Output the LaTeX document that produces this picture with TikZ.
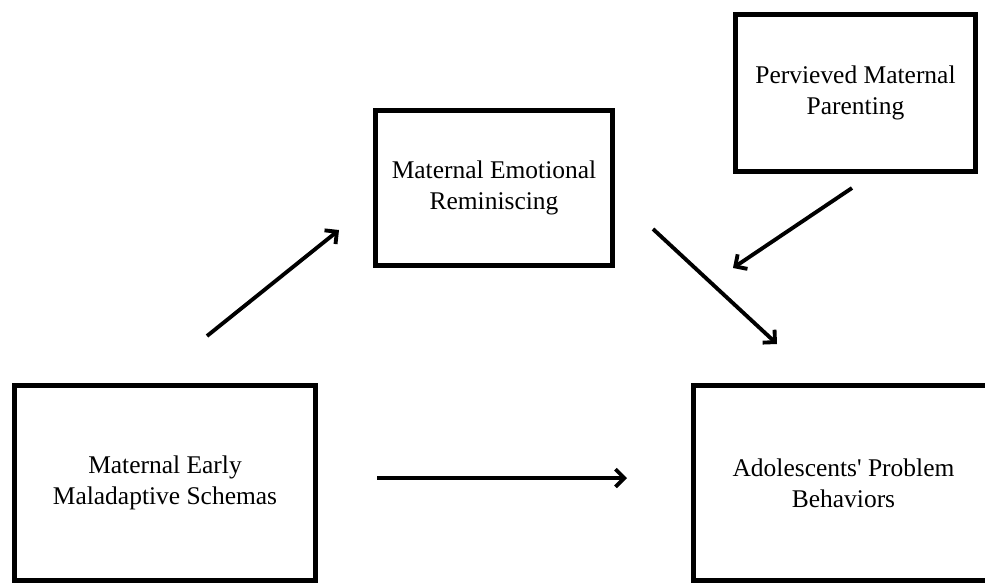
\documentclass[tikz,border=0pt]{standalone}
\usepackage{fontspec}
\setmainfont{Liberation Serif}
\usetikzlibrary{arrows.meta}
\tikzset{
  box/.style={draw, line width=3.2pt, align=center, inner sep=0pt,
    font=\fontsize{14.5}{17.5}\selectfont},
  link/.style={-{Straight Barb[length=5pt,width=10pt]}, line width=2.2pt}
}
\begin{document}
\begin{tikzpicture}[x=0.02cm, y=-0.02cm]
    \useasboundingbox (0,0) rectangle (985,585);
    % boxes
    \node [box, minimum width=6.02cm, minimum height=3.9cm] (schemas) at (165,483) {Maternal Early\\Maladaptive Schemas};
    \node [box, minimum width=4.74cm, minimum height=3.1cm] (remin) at (494,188) {Maternal Emotional\\Reminiscing};
    \node [box, minimum width=4.8cm, minimum height=3.14cm] (parent) at (855.5,93) {Pervieved Maternal\\Parenting};
    \node [box, minimum width=6.0cm, minimum height=3.9cm] (behav) at (843.5,483) {Adolescents\textquotesingle\ Problem\\Behaviors};
    % arrow ends
    \coordinate (a1) at (207,336);
    \coordinate (b1) at (339,230);
    \coordinate (a2) at (653,229);
    \coordinate (b2) at (777,344);
    \coordinate (a3) at (852,188);
    \coordinate (b3) at (733,268);
    \coordinate (a4) at (377,478);
    \coordinate (b4) at (627,478);
    \draw [link] (a1) -- (b1);
    \draw [link] (a2) -- (b2);
    \draw [link] (a3) -- (b3);
    \draw [link] (a4) -- (b4);
\end{tikzpicture}
\end{document}
